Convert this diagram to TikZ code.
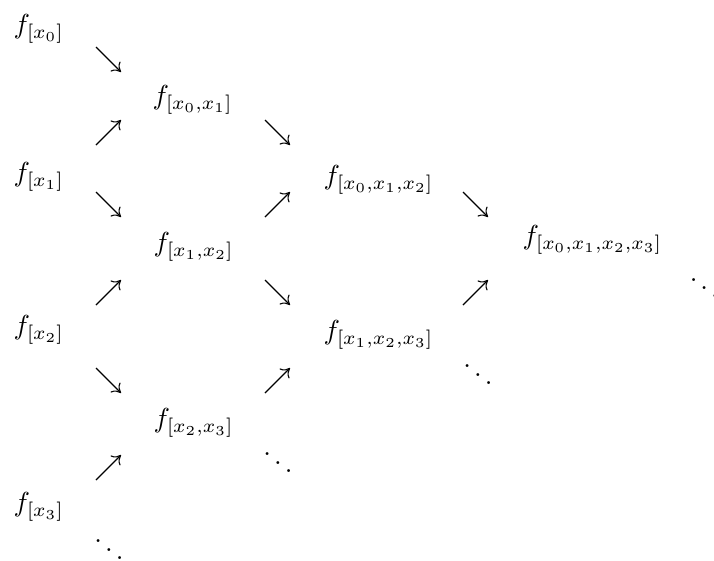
\documentclass[tikz,border=0pt]{standalone}
\usetikzlibrary{arrows.meta}
\begin{document}
\begin{tikzpicture}[x=0.3636pt,y=-0.3636pt,
  lbl/.style={inner sep=0pt, anchor=north west},
  dd/.style={inner sep=0pt, anchor=base west},
  arr/.style={line width=0.4pt, -{Computer Modern Rightarrow[length=3pt,width=5pt]}}]
\useasboundingbox (0,0) rectangle (714,560);
% values
\node[lbl] (f0) at (13,14) {$f_{[x_0]}$};
\node[lbl] (f1) at (13,162) {$f_{[x_1]}$};
\node[lbl] (f2) at (13,315) {$f_{[x_2]}$};
\node[lbl] (f3) at (13,492) {$f_{[x_3]}$};
\node[lbl] (f01) at (152,85) {$f_{[x_0,x_1]}$};
\node[lbl] (f12) at (153,232) {$f_{[x_1,x_2]}$};
\node[lbl] (f23) at (153,408) {$f_{[x_2,x_3]}$};
\node[lbl] (f012) at (323,165) {$f_{[x_0,x_1,x_2]}$};
\node[lbl] (f123) at (323,320) {$f_{[x_1,x_2,x_3]}$};
\node[lbl] (f0123) at (522,225) {$f_{[x_0,x_1,x_2,x_3]}$};
% dots
\node[dd] (d1) at (92.3,562) {$\ddots$};
\node[dd] (d2) at (261.3,475.1) {$\ddots$};
\node[dd] (d3) at (461.3,387.1) {$\ddots$};
\node[dd] (d4) at (687.7,300.6) {$\ddots$};
% arrows
\foreach \i/\x/\y/\d in {1/96/47/25, 2/96/145/-25, 3/96/192/25, 4/96/305/-25, 5/96/368/25, 6/96/480/-25,
  7/265/120/25, 8/265/217/-25, 9/265/280/25, 10/265/393/-25,
  11/463/192/25, 12/463/305/-25}{
  \coordinate (s\i) at (\x,\y);
  \coordinate (e\i) at (\x+25,\y+\d);
  \draw[arr] (s\i) -- (e\i);
}
\end{tikzpicture}
\end{document}
